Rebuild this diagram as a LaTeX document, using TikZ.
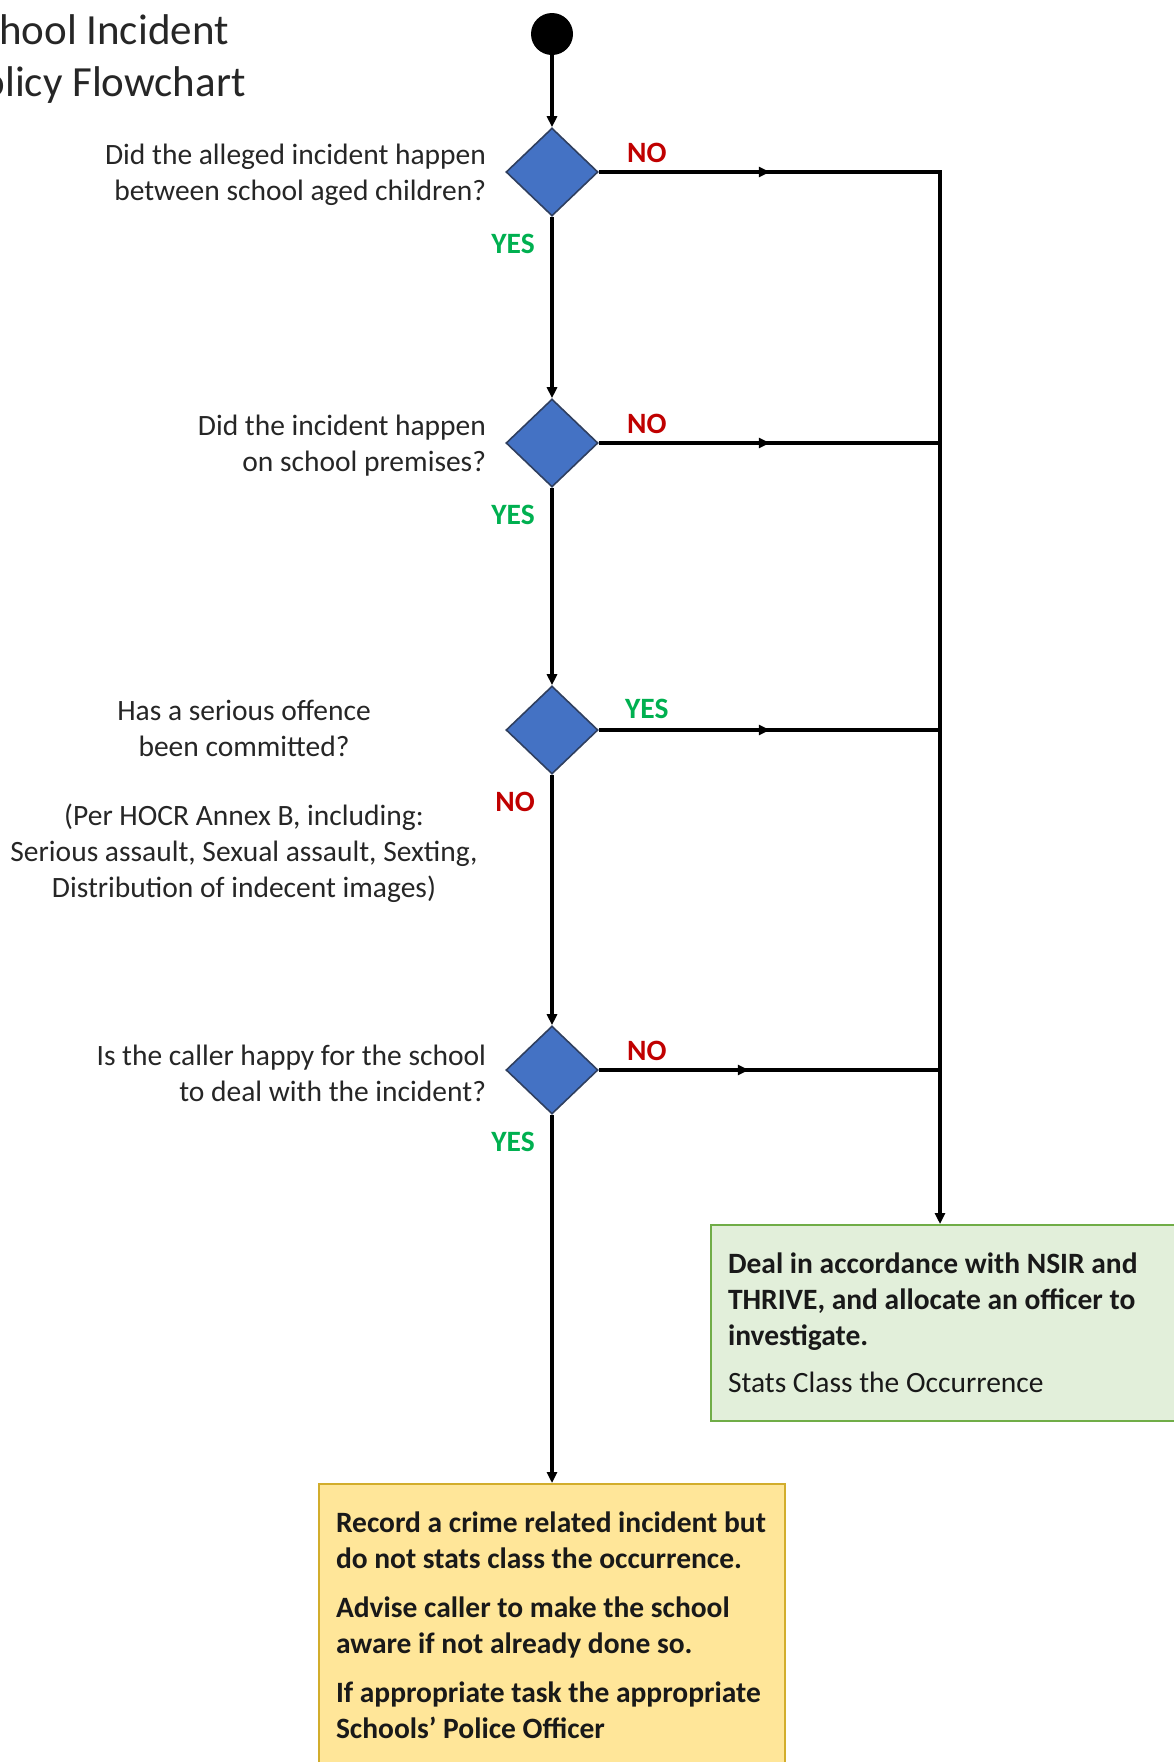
\documentclass[tikz,border=0pt]{standalone}
\usepackage{fontspec}
\setmainfont{Carlito}
\usetikzlibrary{arrows.meta,positioning,shapes.geometric,decorations.markings}
\definecolor{qblue}{HTML}{4472C4}
\definecolor{qedge}{HTML}{2F3F5F}
\definecolor{noRed}{HTML}{C00000}
\definecolor{yesGreen}{HTML}{00B050}
\definecolor{dealFill}{HTML}{E2EFDA}
\definecolor{dealEdge}{HTML}{70AD47}
\definecolor{recordFill}{HTML}{FFE699}
\definecolor{recordEdge}{HTML}{D2AD2C}
\definecolor{textGray}{HTML}{262626}
\tikzset{
  question/.style = {diamond, draw=qedge, fill=qblue, line width=1.6pt,
    minimum width=92pt, minimum height=88pt, inner sep=0pt},
  startdot/.style = {circle, fill=black, minimum size=42pt, inner sep=0pt},
  titletext/.style = {text=textGray, align=left, inner sep=0pt,
    font=\fontsize{43}{52}\selectfont},
  qtext/.style = {text=textGray, inner sep=0pt, yshift=-3pt,
    font=\fontsize{29.5}{36}\selectfont},
  nolabel/.style = {text=noRed, inner sep=0pt, font=\fontsize{29.5}{36}\selectfont\bfseries},
  yeslabel/.style = {text=yesGreen, inner sep=0pt, font=\fontsize{29.5}{36}\selectfont\bfseries},
  busline/.style = {line width=3.2pt},
  flow/.style = {busline, -{Triangle[length=11pt,width=10pt]}},
  midarrow/.style = {postaction={decorate}, decoration={markings,
    mark=at position #1 with {\arrow{Triangle[length=11pt,width=10pt]}}}},
  midarrow/.default = 171pt,
  outcome/.style = {line width=2pt, align=flush left, inner xsep=17pt,
    text=black!90, font=\fontsize{29.5}{36}\selectfont}
}

\begin{document}
\begin{tikzpicture}[x=1pt,y=-1pt]
  \pgfmathsetmacro{\busx}{940}
  \useasboundingbox (0,0) rectangle (1173,1762);
  %
  \node[titletext, anchor=north west] (title) at (-39,14) {School Incident\\Policy Flowchart};
  \node[startdot] (start) at (552,34) {};
  \foreach \q/\ypos in {q1/172,q2/443,q3/730,q4/1070}
    \node[question] (\q) at (552,\ypos) {};
  %
  \node[qtext, align=right, left=19pt of q1] (q1text)
    {Did the alleged incident happen\\between school aged children?};
  \node[qtext, align=right, left=19pt of q2] (q2text)
    {Did the incident happen\\on school premises?};
  \node[qtext, align=center] (q3text) at (244,798)
    {Has a serious offence\\been committed?\\[33pt](Per HOCR Annex B, including:\\
     Serious assault, Sexual assault, Sexting,\\Distribution of indecent images)};
  \node[qtext, align=right, left=19pt of q4] (q4text)
    {Is the caller happy for the school\\to deal with the incident?};
  %
  \foreach \q in {q1,q2,q4} {
    \node[nolabel] (\q-no) at ([xshift=48pt,yshift=19pt]\q.east) {NO};
    \node[yeslabel] (\q-yes) at ([xshift=-39pt,yshift=-27pt]\q.south) {YES};
  }
  \node[yeslabel] (q3-yes) at ([xshift=48pt,yshift=21pt]q3.east) {YES};
  \node[nolabel] (q3-no) at ([xshift=-37pt,yshift=-27pt]q3.south) {NO};
  %
  \node[outcome, fill=dealFill, draw=dealEdge, text width=446pt,
    minimum height=196pt, anchor=north west] (deal) at (710,1224)
    {\textbf{Deal in accordance with NSIR and}\\\textbf{THRIVE, and allocate an officer to}\\
     \textbf{investigate.}\\[11pt]Stats Class the Occurrence};
  \node[outcome, fill=recordFill, draw=recordEdge, text width=432pt,
    minimum height=282pt, anchor=north, font=\fontsize{29.5}{36}\selectfont\bfseries]
    (record) at (552,1483)
    {Record a crime related incident but\\do not stats class the occurrence.\\[13pt]
     Advise caller to make the school\\aware if not already done so.\\[13pt]
     If appropriate task the appropriate\\Schools’ Police Officer};
  %
  \coordinate (bus) at (\busx,172);
  \draw[flow] (start) -- (q1);
  \draw[flow] (q1) -- (q2);
  \draw[flow] (q2) -- (q3);
  \draw[flow] (q3) -- (q4);
  \draw[flow] (q4) -- (record);
  \draw[flow, midarrow] (q1.east) -- (bus) -- (bus |- deal.north);
  \draw[busline, midarrow] (q2.east) -- (q2.east -| bus);
  \draw[busline, midarrow] (q3.east) -- (q3.east -| bus);
  \draw[busline, midarrow=150pt] (q4.east) -- (q4.east -| bus);
\end{tikzpicture}
\end{document}
